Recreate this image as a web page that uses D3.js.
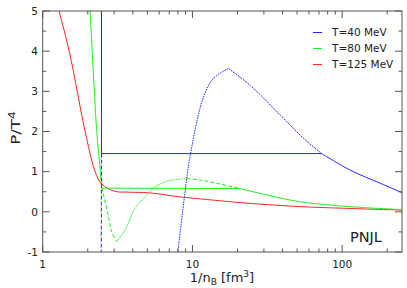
<!DOCTYPE html>
<html>
<head>
<meta charset="utf-8">
<script src="https://cdn.jsdelivr.net/npm/d3@7"></script>
<style>
  body { margin:0; background:#fff; }
  text { font-family: "DejaVu Sans", Verdana, sans-serif; fill:#222; }
</style>
</head>
<body>
<div id="chart"></div>
<script>
// values, x = 1/n_B [fm^3], y = P/T^4
var blueLiq      = [[2.47, 6.0], [2.47, 1.45]]
var blueMaxwell  = [[2.47, 1.45], [73, 1.45]]
var blueGas      = [[73, 1.45], [113, 1.04], [180, 0.71], [250, 0.48]]
var blueLiqMeta  = [[2.47, 1.45], [2.46, -1.2]]
var blueSpin     = [[7.9, -1.2], [8.0, -1.0], [8.9, 0.46], [9.55, 1.29], [11.85, 2.86], [13.8, 3.32], [17.4, 3.57]]
var blueGasMeta  = [[17.4, 3.57], [24.3, 3.15], [38.6, 2.41], [55.2, 1.83], [73, 1.45]]

var greenLiq     = [[2.02, 5.6], [2.07, 5.0], [2.3, 1.95], [2.39, 1.29], [2.48, 0.6]]
var greenMaxwell = [[2.48, 0.59], [20.8, 0.58]]
var greenGas     = [[20.8, 0.58], [31.4, 0.42], [52.5, 0.25], [113, 0.13], [250, 0.055]]
var greenLiqMeta = [[2.48, 0.6], [2.75, -0.12], [2.89, -0.5], [3.12, -0.745]]
var greenSpin    = [[3.12, -0.745], [3.55, -0.45], [4.14, 0.09], [4.83, 0.375], [5.63, 0.62], [6.92, 0.77], [9.17, 0.83]]
var greenGasMeta = [[9.17, 0.83], [11.3, 0.79], [15, 0.7], [20.8, 0.58]]

var red          = [[1.27, 5.4], [1.29, 5.0], [1.39, 4.52], [1.55, 3.77], [1.70, 3.0], [1.92, 2.0], [2.24, 1.0],
                    [2.48, 0.69], [3.04, 0.51], [3.73, 0.49], [5.08, 0.475], [6.24, 0.435], [8.07, 0.375],
                    [10.4, 0.335], [24.3, 0.21], [52.5, 0.13], [100, 0.09], [250, 0.045]]

var legendLabels = ["T=40 MeV", "T=80 MeV", "T=125 MeV"]
var xMajor = [1, 10, 100]
var xMinor = [2, 3, 4, 5, 6, 7, 8, 9, 20, 30, 40, 50, 60, 70, 80, 90, 200]
var yMajor = [-1, 0, 1, 2, 3, 4, 5]
var yMinor = [-0.5, 0.5, 1.5, 2.5, 3.5, 4.5]

var col = { blue:"#2424ff", green:"#22ee22", red:"#ff2626" }
var W = 407, H = 288
var m = { top:11, right:5, bottom:36, left:42.7 }

var svg = d3.select("#chart").append("svg")
    .attr("width", W).attr("height", H)

var x = d3.scaleLog().domain([1, 251]).range([m.left, W - m.right])
var y = d3.scaleLinear().domain([-1, 5]).range([H - m.bottom, m.top])

svg.append("clipPath").attr("id", "clip")
  .append("rect")
    .attr("x", m.left).attr("y", m.top)
    .attr("width", W - m.right - m.left).attr("height", H - m.bottom - m.top)

var plot = svg.append("g").attr("clip-path", "url(#clip)")

var smooth = d3.line().x(d => x(d[0])).y(d => y(d[1])).curve(d3.curveCatmullRom.alpha(0.5))
var straight = d3.line().x(d => x(d[0])).y(d => y(d[1]))

function curve(data, color, dash, gen) {
  plot.append("path")
    .datum(data)
    .attr("fill", "none")
    .attr("stroke", color)
    .attr("stroke-width", 1)
    .attr("stroke-dasharray", dash || null)
    .attr("d", gen || smooth)
}

var DASH = "4,2", DOT = "1.5,1", DOT2 = "2,1"

curve(red, col.red)

curve(greenLiq, col.green)
curve(greenMaxwell, col.green, null, straight)
curve(greenGas, col.green)
curve(greenLiqMeta, col.green, DASH)
curve(greenSpin, col.green, DOT)
curve(greenGasMeta, col.green, DASH)

curve(blueLiq, col.blue, null, straight)
curve(blueMaxwell, col.blue, null, straight)
curve(blueGas, col.blue)
curve(blueLiqMeta, col.blue, DASH, straight)
curve(blueSpin, col.blue, DOT)
curve(blueGasMeta, col.blue, DOT2)

// frame + ticks (inward, mirrored)
var axc = "#555"
var ax = svg.append("g").attr("stroke", axc).attr("stroke-width", 1)
ax.append("rect")
    .attr("x", x.range()[0]).attr("y", y.range()[1])
    .attr("width", x.range()[1] - x.range()[0]).attr("height", y.range()[0] - y.range()[1])
    .attr("fill", "none")

function xt(vals, len) {
  vals.forEach(v => {
    ax.append("line").attr("x1", x(v)).attr("x2", x(v)).attr("y1", y(-1)).attr("y2", y(-1) - len)
    ax.append("line").attr("x1", x(v)).attr("x2", x(v)).attr("y1", y(5)).attr("y2", y(5) + len)
  })
}
function yt(vals, len) {
  vals.forEach(v => {
    ax.append("line").attr("y1", y(v)).attr("y2", y(v)).attr("x1", x.range()[0]).attr("x2", x.range()[0] + len)
    ax.append("line").attr("y1", y(v)).attr("y2", y(v)).attr("x1", x.range()[1]).attr("x2", x.range()[1] - len)
  })
}
xt(xMajor, 7); xt(xMinor, 3.5)
yt(yMajor, 7); yt(yMinor, 3.5)

svg.append("g").selectAll("text").data(xMajor).enter().append("text")
    .attr("x", d => x(d)).attr("y", 268)
    .attr("text-anchor", "middle").attr("font-size", 10.5)
    .text(d => d)

svg.append("g").selectAll("text").data(yMajor).enter().append("text")
    .attr("x", 38).attr("y", d => y(d)).attr("dy", "0.36em")
    .attr("text-anchor", "end").attr("font-size", 10.5)
    .text(d => d)

// axis titles
var xl = svg.append("text").attr("x", 222).attr("y", 281.5)
    .attr("text-anchor", "middle").attr("font-size", 13)
xl.append("tspan").text("1/n")
xl.append("tspan").attr("font-size", 9).attr("dy", 3).text("B")
xl.append("tspan").attr("dy", -3).text(" [fm")
xl.append("tspan").attr("font-size", 9).attr("dy", -5).text("3")
xl.append("tspan").attr("dy", 5).text("]")

var yl = svg.append("text")
    .attr("transform", "translate(19.5,128) rotate(-90) scale(1.45,1)")
    .attr("text-anchor", "middle").attr("font-size", 11.5)
yl.append("tspan").text("P/T")
yl.append("tspan").attr("font-size", 8.5).attr("dy", -5).text("4")

// legend
var lg = svg.append("g")
legendLabels.forEach((s, i) => {
  var yy = 32.5 + i * 16
  lg.append("line").attr("x1", 313).attr("x2", 322).attr("y1", yy).attr("y2", yy)
    .attr("stroke", [col.blue, col.green, col.red][i]).attr("stroke-width", 1)
  lg.append("text").attr("x", 332).attr("y", yy).attr("dy", "0.36em")
    .attr("font-size", 10.5).text(s)
})

svg.append("text").attr("x", 350).attr("y", 242)
    .attr("font-size", 14.5).text("PNJL")
</script>
</body>
</html>
